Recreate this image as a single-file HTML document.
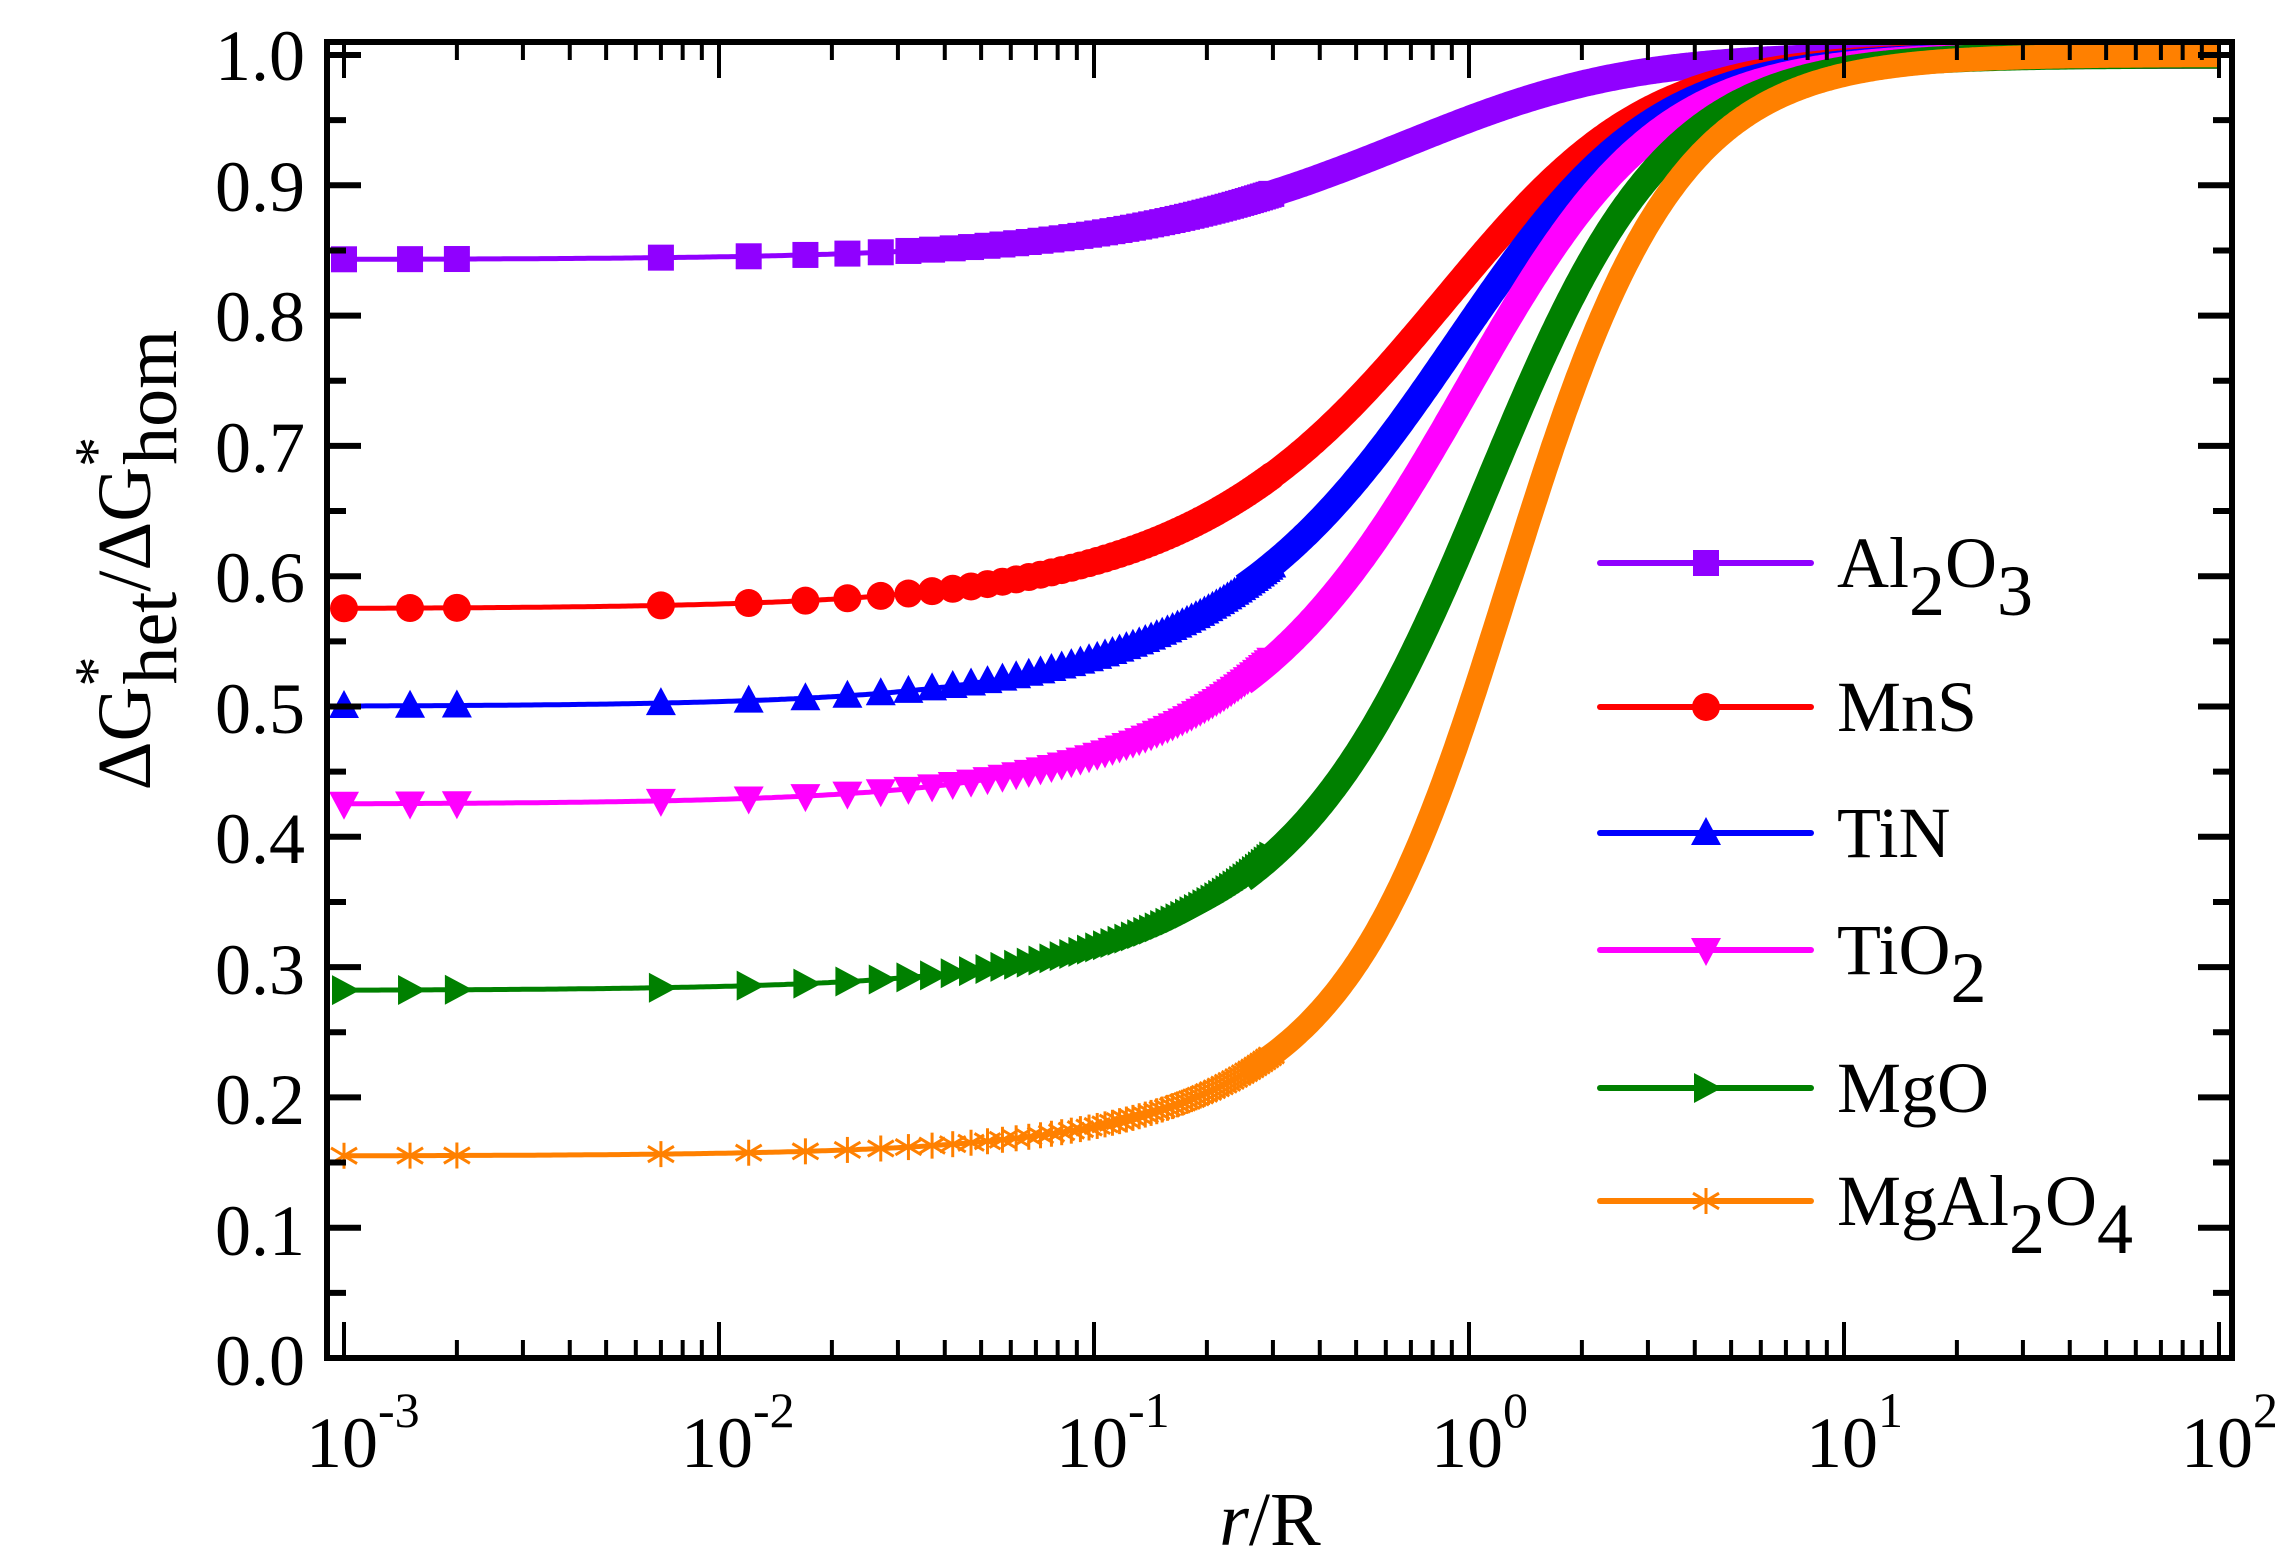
<!DOCTYPE html>
<html><head><meta charset="utf-8"><style>html,body{margin:0;padding:0;background:#fff}svg{display:block}</style></head>
<body>
<svg id="s" xmlns="http://www.w3.org/2000/svg" width="2275" height="1563" viewBox="0 0 2275 1563" font-family="'Liberation Serif',serif">
<g id="plot"></g>
<g id="axes" fill="none" stroke="#000" stroke-width="6"></g>
<g font-size="72" fill="#000">
<text x="305" y="80" text-anchor="end">1.0</text>
<text x="305" y="211" text-anchor="end">0.9</text>
<text x="305" y="341" text-anchor="end">0.8</text>
<text x="305" y="472" text-anchor="end">0.7</text>
<text x="305" y="602" text-anchor="end">0.6</text>
<text x="305" y="733" text-anchor="end">0.5</text>
<text x="305" y="863" text-anchor="end">0.4</text>
<text x="305" y="994" text-anchor="end">0.3</text>
<text x="305" y="1124" text-anchor="end">0.2</text>
<text x="305" y="1255" text-anchor="end">0.1</text>
<text x="305" y="1385" text-anchor="end">0.0</text>
</g>
<g id="xl" font-size="72" fill="#000"></g>
<text x="1270" y="1545" font-size="76" text-anchor="middle"><tspan font-style="italic">r</tspan>/R</text>
<g transform="translate(150,560) rotate(-90)" font-size="76"><text text-anchor="middle">ΔG<tspan dy="-34" font-size="60">*</tspan><tspan dy="60" dx="-28">het</tspan><tspan dy="-26">/ΔG</tspan><tspan dy="-34" font-size="60">*</tspan><tspan dy="60" dx="-28">hom</tspan></text></g>
<g id="leg" font-size="72"></g>
</svg>
<script>
const NS="http://www.w3.org/2000/svg";
const X0=344,DEC=375,Y0=1358,Y1=55;
const px=t=>X0+(Math.log10(t)+3)*DEC, py=v=>Y0-(Y0-Y1)*v;
function el(p,tag,a){const e=document.createElementNS(NS,tag);for(const k in a)e.setAttribute(k,a[k]);p.appendChild(e);return e;}
function flet(m,x){const g=Math.sqrt(1+x*x-2*m*x);const u=(x-m)/g;
 return (1+Math.pow((1-m*x)/g,3)+x*x*x*(2-3*u+u*u*u)+3*m*x*x*(u-1))/2;}
function solveM(f0){let lo=-1,hi=1;for(let i=0;i<60;i++){const m=(lo+hi)/2;const v=(2+m)*(1-m)*(1-m)/4;if(v>f0)lo=m;else hi=m;}return (lo+hi)/2;}
const series=[
 {n:'Al',f0:0.843,c:'#9000FF',mk:'sq',ly:563},
 {n:'MnS',f0:0.575,c:'#FF0000',mk:'ci',ly:707},
 {n:'TiN',f0:0.50,c:'#0000FF',mk:'tu',ly:833},
 {n:'TiO',f0:0.425,c:'#FF00FF',mk:'td',ly:950},
 {n:'MgO',f0:0.282,c:'#008000',mk:'tr',ly:1088},
 {n:'Sp',f0:0.155,c:'#FF8000',mk:'as',ly:1201}];
const plot=document.getElementById('plot');
function marker(g,type,x,y,c){const s=13;
 if(type=='sq')el(g,'rect',{x:x-s,y:y-s,width:2*s,height:2*s,fill:c});
 else if(type=='ci')el(g,'circle',{cx:x,cy:y,r:s+1,fill:c});
 else if(type=='tu')el(g,'polygon',{points:`${x},${y-s-3} ${x-s-2},${y+s-1} ${x+s+2},${y+s-1}`,fill:c});
 else if(type=='td')el(g,'polygon',{points:`${x},${y+s+3} ${x-s-2},${y-s+1} ${x+s+2},${y-s+1}`,fill:c});
 else if(type=='tr')el(g,'polygon',{points:`${x+s+3},${y} ${x-s+1},${y-s-2} ${x-s+1},${y+s+2}`,fill:c});
 else {const a=el(g,'g',{stroke:c,'stroke-width':3});
  el(a,'line',{x1:x,y1:y-s,x2:x,y2:y+s});el(a,'line',{x1:x-s,y1:y-s*0.6,x2:x+s,y2:y+s*0.6});el(a,'line',{x1:x-s,y1:y+s*0.6,x2:x+s,y2:y-s*0.6});}
}
for(const S of series){
 const m=solveM(S.f0);const f=t=>flet(m,1/t);
 const g=el(plot,'g',{});
 let pts=[];for(let i=0;i<=600;i++){const t=Math.pow(10,-3+5*i/600);pts.push(px(t).toFixed(1)+','+py(f(t)).toFixed(1));}
 el(g,'polyline',{points:pts.join(' '),fill:'none',stroke:S.c,'stroke-width':5});
 // band
 let bp=[];for(let i=0;i<=400;i++){const t=Math.pow(10,Math.log10(0.25)+(2-Math.log10(0.25))*i/400);bp.push(px(t).toFixed(1)+','+py(f(t)).toFixed(1));}
 el(g,'polyline',{points:bp.join(' '),fill:'none',stroke:S.c,'stroke-width':S.mk=='as'?24:27,'stroke-linejoin':'round'});
 const ts=[0.001,0.0015,0.002];for(let t=0.007;t<0.3;t+=0.005)ts.push(t);
 for(const t of ts)marker(g,S.mk,px(t),py(f(t)),S.c);
 // legend
 const L=document.getElementById('leg');
 el(L,'line',{x1:1600,y1:S.ly,x2:1811,y2:S.ly,stroke:S.c,'stroke-width':6,'stroke-linecap':'round'});
 marker(L,S.mk,1706,S.ly,S.c);
}
const L=document.getElementById('leg');
const labs=[['Al',[ ['Al',0],['2',1],['O',0],['3',1] ]],['MnS',[['MnS',0]]],['TiN',[['TiN',0]]],['TiO',[['TiO',0],['2',1]]],['MgO',[['MgO',0]]],['Sp',[['MgAl',0],['2',1],['O',0],['4',1]]]];
labs.forEach((lb,i)=>{const S=series[i];const tx=el(L,'text',{x:1837,y:S.ly+24});let sub=0;
 for(const [s,b] of lb[1]){const sp=el(tx,'tspan',{dy:(b&&!sub)?28:(!b&&sub)?-28:0});sp.textContent=s;sub=b;}});
// axes
const A=document.getElementById('axes');
el(A,'rect',{x:327,y:42,width:1905,height:1316});
for(let k=0;k<=10;k++){const y=py(k/10);el(A,'line',{x1:327,y1:y,x2:361,y2:y});el(A,'line',{x1:2232,y1:y,x2:2198,y2:y});
 if(k<10){const y2=py(k/10+0.05);el(A,'line',{x1:327,y1:y2,x2:346,y2:y2});el(A,'line',{x1:2232,y1:y2,x2:2213,y2:y2});}}
const XL=document.getElementById('xl');
for(let d=-3;d<=2;d++){const x=px(Math.pow(10,d));
 el(A,'line',{x1:x,y1:1358,x2:x,y2:1322,'stroke-width':4});el(A,'line',{x1:x,y1:42,x2:x,y2:78,'stroke-width':4});
 if(d<2)for(let j=2;j<=9;j++){const xm=px(j*Math.pow(10,d));el(A,'line',{x1:xm,y1:1358,x2:xm,y2:1340,'stroke-width':4});el(A,'line',{x1:xm,y1:42,x2:xm,y2:60,'stroke-width':4});}
 const t=el(XL,'text',{x:x-38,y:1467});const a=el(t,'tspan',{});a.textContent='10';const b=el(t,'tspan',{dy:-40,'font-size':50});b.textContent=d<0?'-'+(-d):''+d;}
</script>
</body></html>
